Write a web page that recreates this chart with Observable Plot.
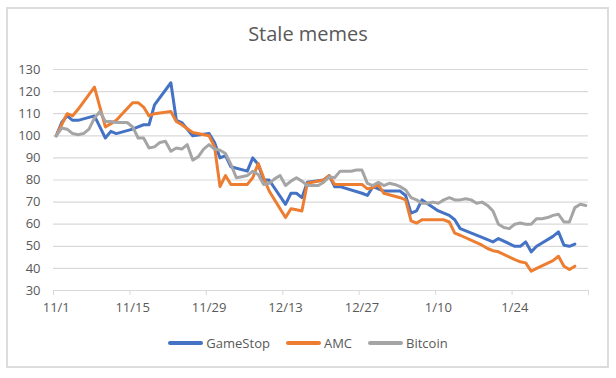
<!DOCTYPE html>
<html>
<head>
<meta charset="utf-8">
<script src="https://cdn.jsdelivr.net/npm/d3@7"></script>
<script src="https://cdn.jsdelivr.net/npm/@observablehq/plot@0.6"></script>
<style>
  html, body { margin: 0; padding: 0; background: #ffffff; }
  #wrap { position: relative; width: 616px; height: 378px; overflow: hidden; font-family: 'Open Sans', sans-serif; }
  #frame { position: absolute; left: 6px; top: 7px; width: 599px; height: 357px; border: 2px solid #dcdcdc; }
  #chart { position: absolute; left: 0; top: 0; }
  #title { position: absolute; left: 0; top: 20px; width: 616px; text-align: center; font-size: 20px; color: #595959; line-height: 28px; }
  #legend { position: absolute; left: 0; top: 333px; width: 616px; display: flex; justify-content: center; align-items: center; font-size: 13px; color: #595959; line-height: 20px; }
  .item { display: flex; align-items: center; margin: 0 8px; }
  .sw { width: 35px; height: 4px; border-radius: 2px; margin-right: 3px; }
</style>
</head>
<body>
<div id="wrap">
  <div id="frame"></div>
  <div id="title">Stale memes</div>
  <div id="chart"></div>
  <div id="legend"></div>
</div>
<script>
// ---- data ----
const seriesNames = ["GameStop", "AMC", "Bitcoin"];
const seriesColors = ["#4472C4", "#ED7D31", "#A5A5A5"];

const tradingDays = [
  "2021-11-01","2021-11-02","2021-11-03","2021-11-04","2021-11-05",
  "2021-11-08","2021-11-09","2021-11-10","2021-11-11","2021-11-12",
  "2021-11-15","2021-11-16","2021-11-17","2021-11-18","2021-11-19",
  "2021-11-22","2021-11-23","2021-11-24","2021-11-26",
  "2021-11-29","2021-11-30","2021-12-01","2021-12-02","2021-12-03",
  "2021-12-06","2021-12-07","2021-12-08","2021-12-09","2021-12-10",
  "2021-12-13","2021-12-14","2021-12-15","2021-12-16","2021-12-17",
  "2021-12-20","2021-12-21","2021-12-22","2021-12-23",
  "2021-12-27","2021-12-28","2021-12-29","2021-12-30","2021-12-31",
  "2022-01-03","2022-01-04","2022-01-05","2022-01-06","2022-01-07",
  "2022-01-10","2022-01-11","2022-01-12","2022-01-13","2022-01-14",
  "2022-01-18","2022-01-19","2022-01-20","2022-01-21",
  "2022-01-24","2022-01-25","2022-01-26","2022-01-27","2022-01-28",
  "2022-01-31","2022-02-01","2022-02-02","2022-02-03","2022-02-04"
];

const gameStop = [
  100, 106, 109, 107, 107, 109, 104, 99, 102, 101,
  103, 104, 105, 105, 114, 124, 107, 106, 100,
  101, 97, 90, 91, 86,
  84, 90, 87, 80, 80,
  69, 74, 74, 72, 79,
  80, 82, 77, 77,
  74, 73, 77, 76, 75,
  75, 73, 65, 66, 71,
  66, 65, 64, 62, 58,
  54, 53, 52, 53.5,
  50, 50, 52, 47.5, 50,
  54.5, 56.5, 50.5, 50, 51
];

const amc = [
  100, 105, 110, 109, 112, 122, 113, 104, 105.5, 107,
  115, 115, 113, 109, 110, 111, 106.5, 105, 101.5,
  100, 95, 77, 82, 78,
  78, 81, 87.5, 81, 75,
  63, 67, 66.5, 66, 78.5,
  80, 82, 78, 78,
  78, 76, 76.5, 78, 74,
  72, 71, 61.5, 60.5, 62,
  62, 62, 61, 56, 55,
  50.5, 49, 48, 47.5,
  44, 43, 42.5, 38.7, 40,
  43.5, 45.5, 41, 39.5, 41
];

// Bitcoin trades every day: 2021-11-01 through 2022-02-06
const bitcoinStart = "2021-11-01";
const bitcoinEnd = "2022-02-07";
const bitcoin = [
  // Nov
  100, 103.5, 103, 101, 100.5, 101, 103, 108, 111, 106.5,
  106.5, 106, 106, 106, 104, 99, 99, 94.5, 95, 97,
  97.5, 93, 94.5, 94, 96, 89, 90.5, 94, 96, 94,
  // Dec
  93.5, 92, 87, 81, 81.5, 82, 84, 82.5, 78, 78.5,
  80.5, 82, 77.5, 79.5, 81, 79.5, 77.5, 77.5, 77.5, 79,
  81.5, 81, 84, 84, 84, 84.5, 84.5, 78.5, 77.5, 79, 77.5,
  // Jan
  78.5, 78, 77, 75.5, 72, 71, 69.5, 69.5, 70, 69.5,
  71, 72, 71, 71, 71.5, 71, 69.5, 70, 68.5, 66,
  60, 58.5, 58, 60, 60.5, 60, 60, 62.5, 62.5, 63, 64,
  // Feb
  64.5, 61, 61, 67.5, 69, 68.5
];

const xDomain = ["2021-11-01", "2022-02-07"];
const xTickDates = ["2021-11-01","2021-11-15","2021-11-29","2021-12-13","2021-12-27","2022-01-10","2022-01-24","2022-02-07"];
const xLabelDates = ["2021-11-01","2021-11-15","2021-11-29","2021-12-13","2021-12-27","2022-01-10","2022-01-24"];
const yTicks = [30, 40, 50, 60, 70, 80, 90, 100, 110, 120, 130];

// ---- build ----
const parse = d3.utcParse("%Y-%m-%d");
const mid = (d) => d3.utcHour.offset(parse(d), 12); // Excel date axis: points centered in the day slot

const rows = [];
tradingDays.forEach((d, i) => rows.push({series: "GameStop", date: mid(d), value: gameStop[i]}));
tradingDays.forEach((d, i) => rows.push({series: "AMC", date: mid(d), value: amc[i]}));
d3.utcDays(parse(bitcoinStart), parse(bitcoinEnd)).forEach((d, i) => {
  if (i < bitcoin.length) rows.push({series: "Bitcoin", date: d3.utcHour.offset(d, 12), value: bitcoin[i]});
});

const fmt = d3.utcFormat("%-m/%-d");

const chart = Plot.plot({
  width: 616,
  height: 378,
  marginTop: 69,
  marginBottom: 88,
  marginLeft: 53,
  marginRight: 28,
  style: {fontFamily: "'Open Sans', sans-serif", fontSize: "13px", color: "#595959", background: "transparent", overflow: "visible"},
  x: {type: "utc", domain: xDomain.map(parse), label: null},
  y: {domain: [30, 130], label: null},
  color: {domain: seriesNames, range: seriesColors},
  marks: [
    Plot.gridY({ticks: yTicks.slice(1), stroke: "#d9d9d9", strokeOpacity: 1, strokeWidth: 1.2}),
    Plot.axisY({ticks: yTicks, tickSize: 0, tickPadding: 13, label: null, fill: "#595959", fontSize: 13}),
    Plot.ruleY([30], {stroke: "#d9d9d9", strokeWidth: 1.2}),
    Plot.axisX({ticks: xTickDates.map(parse), tickSize: 5, tickFormat: () => "", stroke: "#d9d9d9", strokeOpacity: 1, label: null}),
    Plot.axisX({ticks: xLabelDates.map(mid), tickSize: 0, tickPadding: 12, tickFormat: fmt, label: null, fill: "#595959", fontSize: 13}),
    Plot.line(rows, {x: "date", y: "value", z: "series", stroke: "series", strokeWidth: 3, strokeLinejoin: "round", strokeLinecap: "round"})
  ]
});
document.getElementById("chart").appendChild(chart);

// legend
const legend = document.getElementById("legend");
seriesNames.forEach((name, i) => {
  const item = document.createElement("div");
  item.className = "item";
  const sw = document.createElement("div");
  sw.className = "sw";
  sw.style.background = seriesColors[i];
  const label = document.createElement("span");
  label.textContent = name;
  item.appendChild(sw);
  item.appendChild(label);
  legend.appendChild(item);
});
</script>
</body>
</html>
